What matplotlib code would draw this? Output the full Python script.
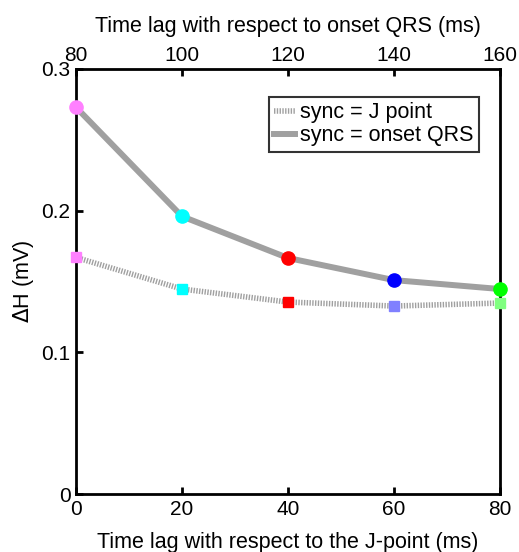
import matplotlib.pyplot as plt

plt.rcParams['font.family'] = ['Liberation Sans', 'DejaVu Sans']

# data
lag_j = [0, 20, 40, 60, 80]
dh_jpoint = [0.167, 0.1447, 0.1355, 0.1327, 0.1348]
dh_qrs = [0.273, 0.196, 0.1666, 0.151, 0.1447]
top_ticks = [80, 100, 120, 140, 160]
col_qrs = ['#ff80ff', '#00ffff', '#ff0000', '#0000ff', '#00ff00']
col_j = ['#ff80ff', '#00ffff', '#ff0000', '#8080ff', '#80ff80']

fig = plt.figure(figsize=(5.19, 5.52), dpi=100)
ax = fig.add_axes([0.1464, 0.105, 0.817, 0.770])

ax.plot(lag_j, dh_jpoint, color='#a0a0a0', lw=4, ls=(0, (0.25, 0.25)),
        label='sync = J point', zorder=2)
ax.plot(lag_j, dh_qrs, color='#a0a0a0', lw=4.3, label='sync = onset QRS', zorder=2)
for x, y, c in zip(lag_j, dh_jpoint, col_j):
    ax.plot(x, y, 's', color=c, ms=7.5, zorder=4, clip_on=False)
for x, y, c in zip(lag_j, dh_qrs, col_qrs):
    ax.plot(x, y, 'o', color=c, ms=9.5, zorder=4, clip_on=False)

ax.set_xlim(0, 80)
ax.set_ylim(0, 0.3)
ax.set_xticks(lag_j)
ax.set_yticks([0, 0.1, 0.2, 0.3])
ax.set_yticklabels(['0', '0.1', '0.2', '0.3'])
ax.tick_params(direction='in', labelsize=15, width=2, length=5, pad=4)
for s in ax.spines.values():
    s.set_linewidth(2)
ax.set_xlabel('Time lag with respect to the J-point (ms)', fontsize=15.5, labelpad=10)
ax.set_ylabel(r'$\Delta$H (mV)', fontsize=15.5)

top = ax.secondary_xaxis('top', functions=(lambda v: v + 80, lambda v: v - 80))
top.set_xticks(top_ticks)
top.tick_params(direction='in', labelsize=15, width=2, length=5, pad=3)
top.set_xlabel('Time lag with respect to onset QRS (ms)', fontsize=15.5, labelpad=10)

leg = ax.legend(loc='upper right', fontsize=15.5, handlelength=1.0, handletextpad=0.2,
                borderpad=0.25, labelspacing=0.1, fancybox=False,
                bbox_to_anchor=(0.975, 0.96))
leg.get_frame().set_edgecolor('black')
leg.get_frame().set_linewidth(1.5)
leg.set_zorder(5)

fig.savefig('out.png')
